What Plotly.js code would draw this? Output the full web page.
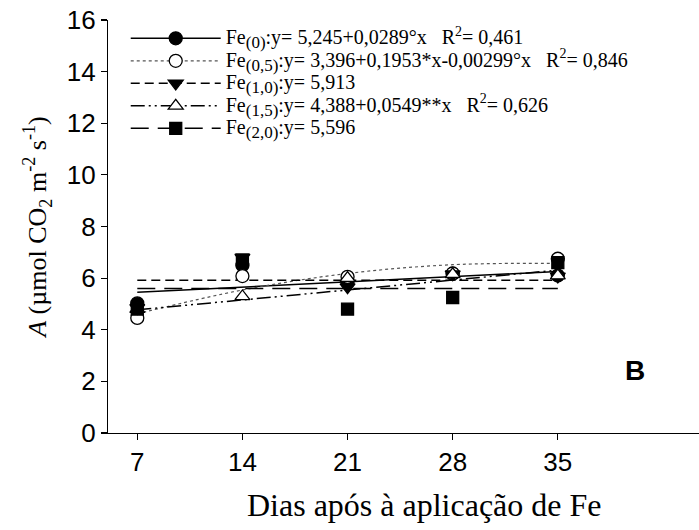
<!DOCTYPE html>
<html><head><meta charset="utf-8">
<script src="https://cdn.plot.ly/plotly-3.0.1.min.js"></script>
<style>body{margin:0;background:#fff}#chart{width:699px;height:530px}</style>
</head><body><div id="chart"></div>
<script>
// Days after Fe application
const days = [7, 14, 21, 28, 35];
// Observed A values per Fe dose
const fe00 = [5.02, 6.5, 5.85, 6.17, 6.1];
const fe05 = [4.46, 6.08, 6.05, 6.18, 6.75];
const fe10 = [4.85, 6.8, 5.65, 6.15, 6.07];
const fe15 = [4.8, 5.29, 6.0, 6.15, 6.1];
const fe20 = [4.8, 6.7, 4.8, 5.25, 6.6];
// Fitted curves read at the same days
const fit00 = [5.45, 5.65, 5.85, 6.05, 6.26];
const fit05 = [4.62, 5.54, 6.18, 6.52, 6.57];
const fit10 = [5.913, 5.913, 5.913, 5.913, 5.913];
const fit15 = [4.77, 5.16, 5.54, 5.93, 6.31];
const fit20 = [5.596, 5.596, 5.596, 5.596, 5.596];
// Legend labels
const subs = ['(0)', '(0,5)', '(1,0)', '(1,5)', '(2,0)'];
const eqs = [
  ':y= 5,245+0,0289°x   R<sup>2</sup>= 0,461',
  ':y= 3,396+0,1953*x-0,00299°x   R<sup>2</sup>= 0,846',
  ':y= 5,913',
  ':y= 4,388+0,0549**x   R<sup>2</sup>= 0,626',
  ':y= 5,596'
];
const xTitle = 'Dias após à aplicação de Fe';
const yTitle = '<i>A</i> (µmol CO<sub>2</sub> m<sup>-2</sup> s<sup>-1</sup>)';

const labels = subs.map((s, i) =>
  '<span style="font-size:20px">Fe<sub><span style="font-size:17px">' + s + '</span></sub>' + eqs[i] + '</span>');

const obs = [fe00, fe05, fe10, fe15, fe20];
const fits = [fit00, fit05, fit10, fit15, fit20];
const symbols = ['circle', 'circle', 'triangle-down', 'triangle-up', 'square'];
const fills = ['black', 'white', 'black', 'white', 'black'];
const dashes = ['solid', 'dot', '9px,5px', '14px,4px,2px,4px,2px,4px', '18px,9px'];
const shapes = ['linear', 'spline', 'linear', 'linear', 'linear'];
const lineW = [1.5, 1.2, 1.5, 1.5, 1.5];
const sizes = [13, 13, 13, 13, 12];

const traces = [];
for (let i = 0; i < 5; i++) {
  traces.push({
    x: days, y: fits[i], mode: 'lines', showlegend: false, hoverinfo: 'skip',
    line: {color: i === 1 ? '#555' : 'black', width: lineW[i], dash: dashes[i], shape: shapes[i]}
  });
}
for (let i = 0; i < 5; i++) {
  traces.push({
    x: days, y: obs[i], mode: 'markers', showlegend: false,
    marker: {symbol: symbols[i], size: sizes[i], color: fills[i], line: {color: 'black', width: 1.3}}
  });
}
for (let i = 0; i < 5; i++) {
  traces.push({
    x: [null], y: [null], mode: 'lines+markers', name: labels[i],
    line: {color: i === 1 ? '#555' : 'black', width: lineW[i], dash: dashes[i]},
    marker: {symbol: symbols[i], size: sizes[i], color: fills[i], line: {color: 'black', width: 1.3}}
  });
}

const layout = {
  width: 699, height: 530,
  margin: {l: 108, r: 0, t: 20, b: 97},
  paper_bgcolor: 'white', plot_bgcolor: 'white',
  showlegend: true,
  legend: {x: 0.03, y: 0.995, xanchor: 'left', yanchor: 'top', bgcolor: 'rgba(0,0,0,0)',
    font: {family: 'Liberation Serif, serif', size: 15, color: 'black'},
    itemwidth: 90, tracegroupgap: 0},
  xaxis: {range: [5.05, 44.4], tickvals: days, ticktext: days.map(String),
    showgrid: false, zeroline: false, showline: true, linecolor: 'black', linewidth: 1.2,
    ticks: 'outside', ticklen: 6, tickcolor: 'black', tickwidth: 1.2,
    tickfont: {family: 'Liberation Sans, Arial', size: 26, color: 'black'}},
  yaxis: {range: [0, 16], tickvals: [0, 2, 4, 6, 8, 10, 12, 14, 16],
    showgrid: false, zeroline: false, showline: true, linecolor: 'black', linewidth: 1.2,
    ticks: 'outside', ticklen: 6, tickcolor: 'black', tickwidth: 1.2,
    tickfont: {family: 'Liberation Sans, Arial', size: 26, color: 'black'},
    title: {text: yTitle, font: {family: 'Liberation Serif, serif', size: 26, color: 'black'}, standoff: 12}},
  annotations: [
    {xref: 'paper', yref: 'paper', x: 0.912, y: 0.11, text: '<b>B</b>', showarrow: false,
      font: {family: 'Liberation Sans, Arial', size: 28, color: 'black'}},
    {xref: 'paper', yref: 'paper', x: 0.535, y: -0.174, yanchor: 'middle', text: xTitle, showarrow: false,
      font: {family: 'Liberation Serif, serif', size: 32, color: 'black'}}
  ]
};
Plotly.newPlot('chart', traces, layout, {displayModeBar: false, staticPlot: true});
</script></body></html>
